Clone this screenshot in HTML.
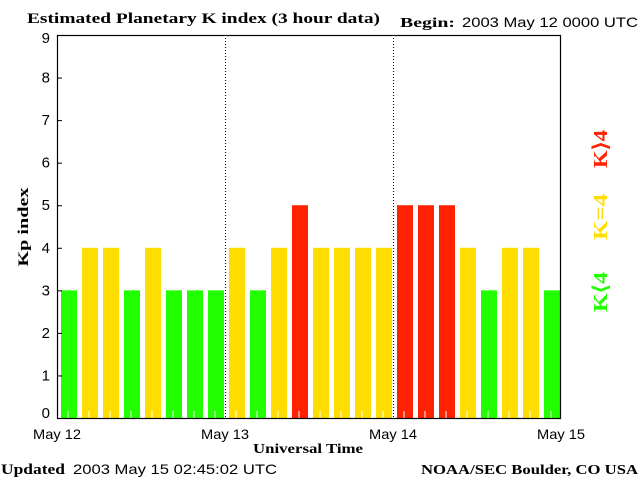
<!DOCTYPE html>
<html><head><meta charset="utf-8"><style>
body{margin:0;background:#fff;width:640px;height:480px;overflow:hidden}
svg text{font-family:"Liberation Sans",sans-serif}
.serif{font-family:"Liberation Serif",serif;font-weight:bold}
</style></head><body>
<svg id="chart" width="640" height="480" viewBox="0 0 640 480">
<rect x="0" y="0" width="640" height="480" fill="#fff"/>
<text class="serif" x="27" y="23" font-size="15" textLength="353" lengthAdjust="spacingAndGlyphs">Estimated Planetary K index (3 hour data)</text>
<text class="serif" x="400" y="27" font-size="14" textLength="55" lengthAdjust="spacingAndGlyphs">Begin:</text>
<text x="462" y="27" font-size="14" textLength="176" lengthAdjust="spacingAndGlyphs">2003 May 12 0000 UTC</text>
<g id="bars"></g>
<g id="axes"></g>
<text class="serif" x="253" y="453" font-size="14" textLength="110" lengthAdjust="spacingAndGlyphs">Universal Time</text>
<text class="serif" x="0" y="0" font-size="15" textLength="79" lengthAdjust="spacingAndGlyphs" text-anchor="middle" transform="translate(28,227) rotate(-90)">Kp index</text>
<text class="serif" x="0" y="0" font-size="20" fill="#ff2200" text-anchor="middle" textLength="38" lengthAdjust="spacingAndGlyphs" transform="translate(607,149) rotate(-90)">K⟩4</text>
<text class="serif" x="0" y="0" font-size="20" fill="#ffdd00" text-anchor="middle" textLength="46" lengthAdjust="spacingAndGlyphs" transform="translate(607,217) rotate(-90)">K=4</text>
<text class="serif" x="0" y="0" font-size="20" fill="#22ff00" text-anchor="middle" textLength="40" lengthAdjust="spacingAndGlyphs" transform="translate(607,292) rotate(-90)">K⟨4</text>
<text class="serif" x="1" y="474" font-size="15" textLength="64" lengthAdjust="spacingAndGlyphs">Updated</text>
<text x="73" y="474" font-size="14" textLength="204" lengthAdjust="spacingAndGlyphs">2003 May 15 02:45:02 UTC</text>
<text class="serif" x="421" y="474" font-size="14" textLength="217" lengthAdjust="spacingAndGlyphs">NOAA/SEC Boulder, CO USA</text>
</svg>
<script>
const kpValues=[3,4,4,3,4,3,3,3,4,3,4,5,4,4,4,4,5,5,5,4,3,4,4,3];
const dayLabels=["May 12","May 13","May 14","May 15"];
const yTicks=[0,1,2,3,4,5,6,7,8,9];
const X0=57,X1=561,Y0=418,YT=35,YMAX=9;
const NS="http://www.w3.org/2000/svg";
const xs=i=>X0+(X1-X0)*i/kpValues.length;
const ys=v=>Y0-(Y0-YT)*v/YMAX;
function mk(t,a,p){const e=document.createElementNS(NS,t);for(const k in a)e.setAttribute(k,a[k]);p.appendChild(e);return e;}
const bars=document.getElementById('bars'),axes=document.getElementById('axes');
const slot=(X1-X0)/kpValues.length;
kpValues.forEach((v,i)=>{
  const c=v<4?"#22ff00":v==4?"#ffdd00":"#ff2200";
  const r=mk('rect',{x:xs(i)+4,y:ys(v),width:slot-5,height:Y0-ys(v),fill:c},bars);
  
  
  const t=mk('line',{x1:xs(i)+slot/2+0.5,x2:xs(i)+slot/2+0.5,y1:Y0-7,y2:Y0,stroke:"#fff","stroke-width":1},bars);
  
  
});
mk('rect',{x:X0+0.5,y:YT+0.5,width:X1-X0-1,height:Y0-YT,fill:"none",stroke:"#000","stroke-width":1.2},axes);
dayLabels.forEach((d,i)=>{
  const x=X0+(X1-X0)*i/(dayLabels.length-1);
  if(i>0&&i<dayLabels.length-1){
    const l=mk('line',{x1:x+0.5,x2:x+0.5,y1:YT,y2:Y0,stroke:"#000","stroke-dasharray":"1,2"},axes);
    
    
  }
  const t=mk('text',{x:x,y:439,"font-size":14,"text-anchor":"middle",textLength:48,lengthAdjust:"spacingAndGlyphs"},axes);
  t.textContent=d;
  
  
});
yTicks.forEach(v=>{
  const y=ys(v);
  const l=mk('line',{x1:X0,x2:X0+5,y1:y+0.5,y2:y+0.5,stroke:"#000"},axes);
  
  
  const t=mk('text',{x:50,y:y+(v==0?0:5)+(v==9?3:0),"font-size":15,"text-anchor":"end"},axes);
  t.textContent=v;
  
  
});
</script>
</body></html>
